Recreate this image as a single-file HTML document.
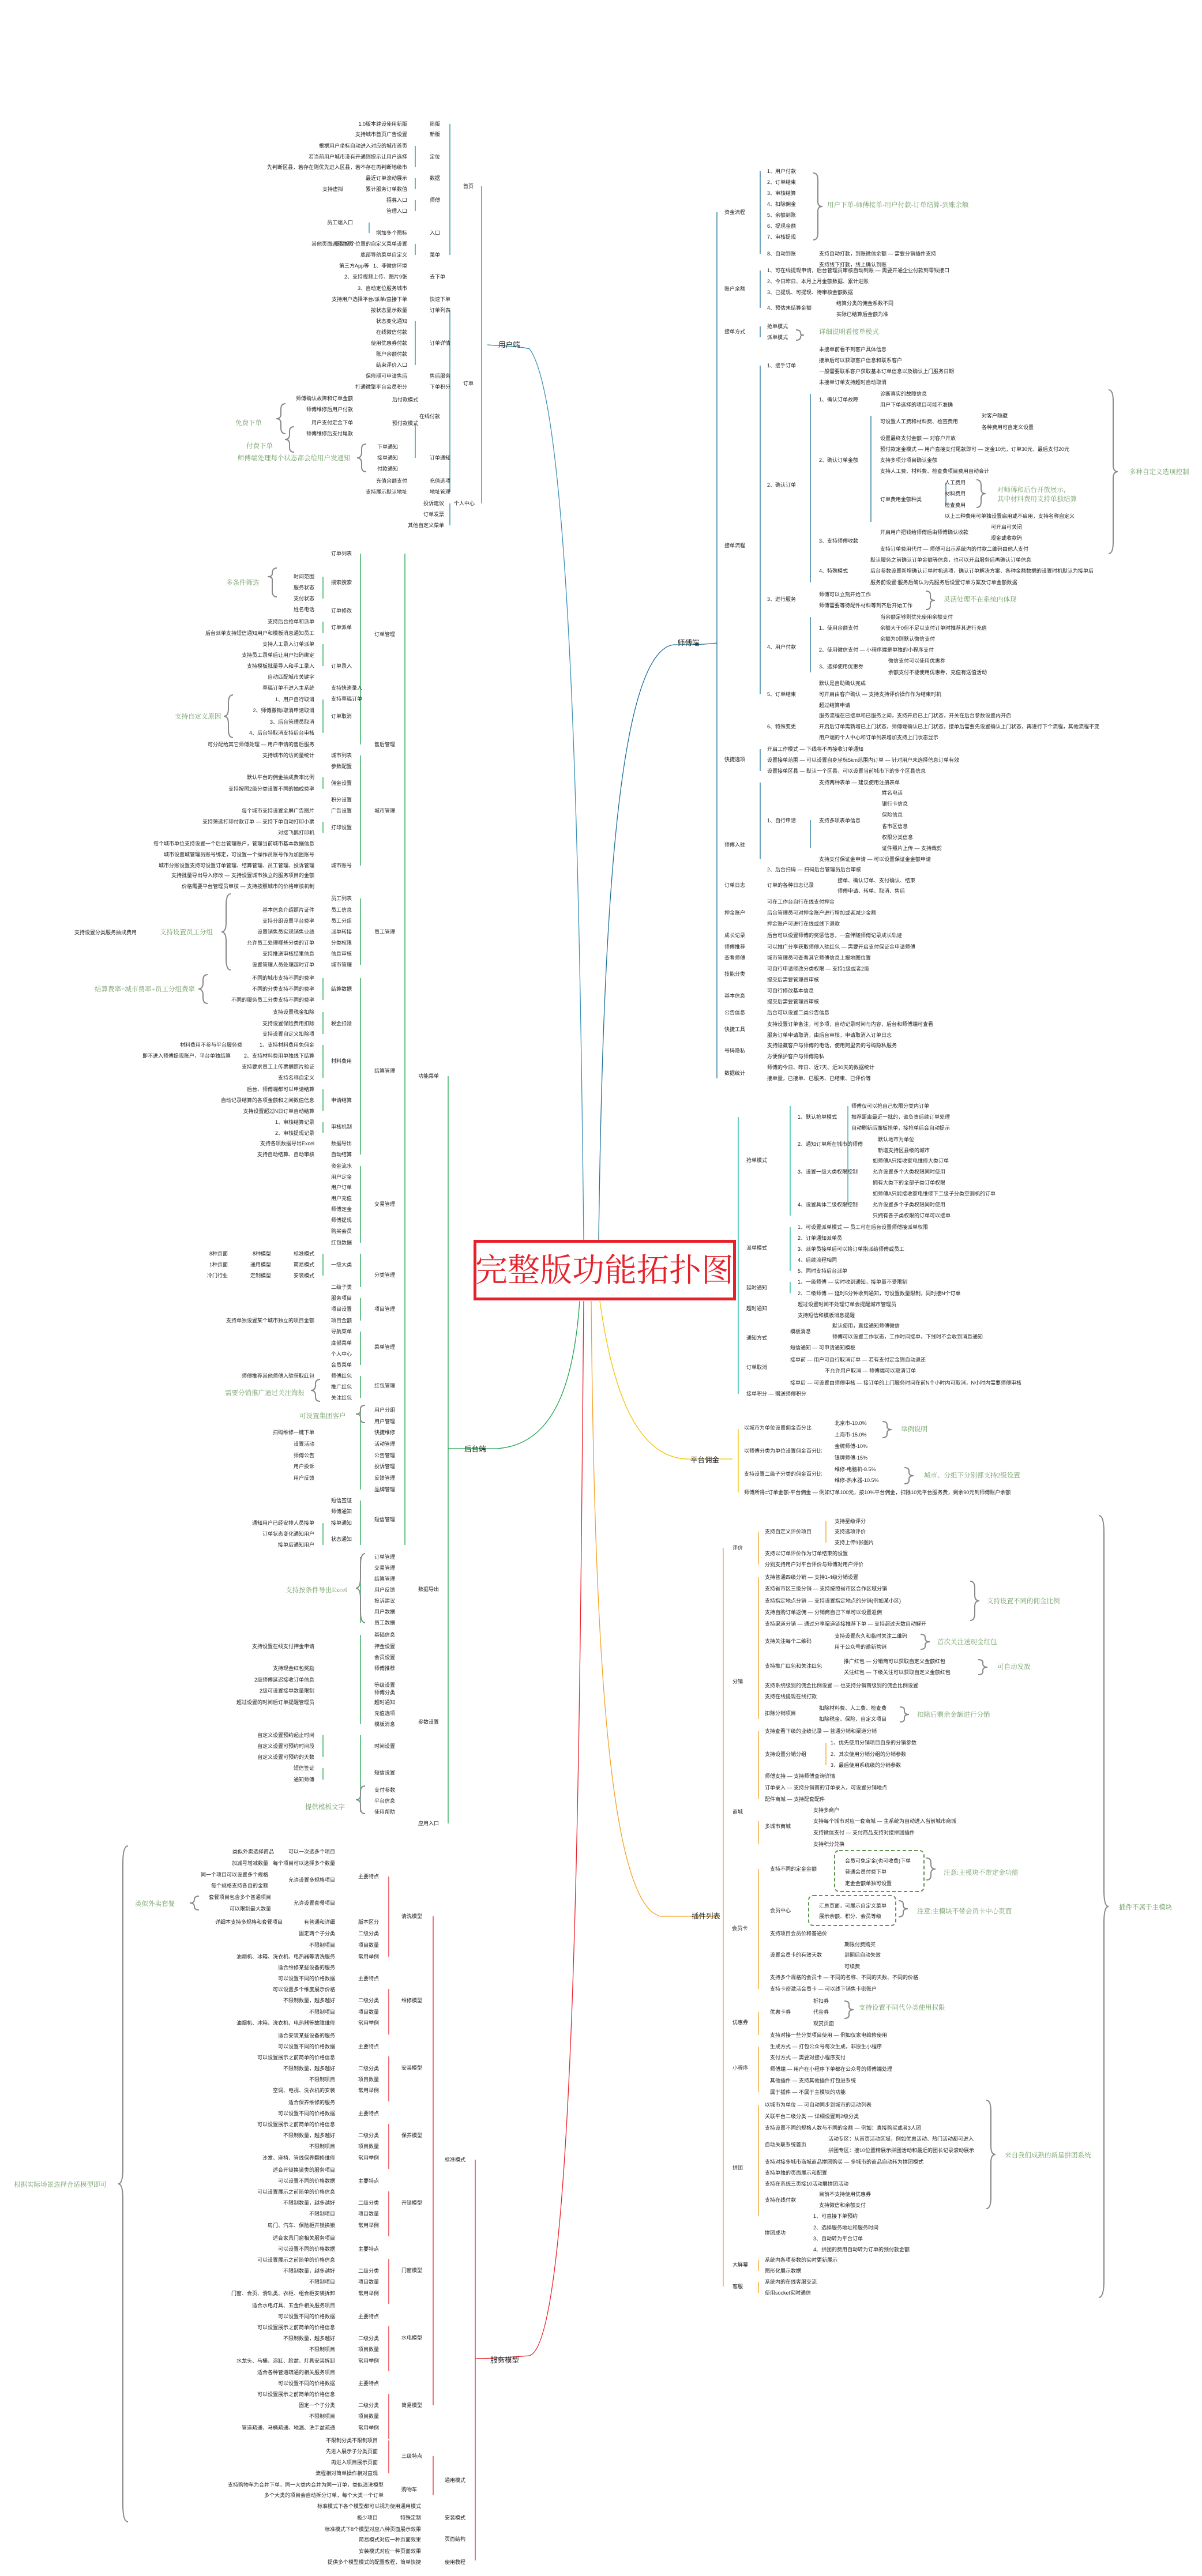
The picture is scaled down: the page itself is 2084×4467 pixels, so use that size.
<!DOCTYPE html>
<html><head><meta charset="utf-8">
<style>
html,body{margin:0;padding:0;background:#fff;}
svg{display:block;}
text{font-family:"Liberation Sans","Noto Sans CJK SC",sans-serif;font-size:9px;fill:#222;}
.e{text-anchor:end;}
.a{font-family:"Liberation Serif","Noto Serif CJK SC",serif;font-size:11.5px;fill:#6f9c63;}
.L{font-size:12.5px;}
.ln{fill:none;stroke-width:1.3;}
.br{fill:none;stroke:#888;stroke-width:2;}
</style></head>
<body>
<svg width="2084" height="4467" viewBox="0 0 2084 4467" xmlns="http://www.w3.org/2000/svg">
<rect width="2084" height="4467" fill="#fff"/>

<!-- ===== center connectors ===== -->
<path class="ln" stroke="#3a8fb7" d="M1012 2150 C1005 1500 990 700 918 605"/>
<path class="ln" stroke="#1a6f98" d="M1038 2150 C1045 1600 1070 1130 1168 1118"/>
<path class="ln" stroke="#1aa34a" d="M1005 2256 C995 2400 960 2505 862 2512"/>
<path class="ln" stroke="#f2c200" d="M1040 2256 C1060 2400 1100 2528 1192 2530"/>
<path class="ln" stroke="#f5a020" d="M1025 2256 C1030 2800 1050 3300 1145 3323"/>
<path class="ln" stroke="#e8202a" d="M1012 2256 C1005 3000 1000 4060 918 4085"/>

<!-- center box -->
<rect x="823.5" y="2152.5" width="450" height="100" fill="#fff" stroke="#e8202a" stroke-width="5"/>
<text x="1048" y="2222" style="font-family:'Noto Serif CJK SC','Liberation Serif',serif;font-size:56px;fill:#e8202a;text-anchor:middle;">完整版功能拓扑图</text>

<!-- ===== 用户端 (blue, top-left) ===== -->
<g stroke="#1a8aa8">
<path class="ln" d="M835 323 V873"/>
<path class="ln" d="M780 215 V442"/>
<path class="ln" d="M780 538 V853"/>
<path class="ln" d="M780 873 V911"/>
<path class="ln" d="M720 253 V290 M720 309 V328 M720 347 V366 M720 423 V442 M720 557 V633 M720 733 V794 M640 386 V404"/>
<path class="ln" d="M918 605 C900 600 870 600 845 598"/>
</g>
<text x="864" y="602" class="L">用户端</text>
<text x="803" y="326">首页</text><text x="803" y="668">订单</text><text x="787" y="876">个人中心</text>
<g>
<text x="745" y="218">简版</text><text x="745" y="236">新版</text><text x="745" y="275">定位</text><text x="745" y="312">数据</text><text x="745" y="350">师傅</text><text x="745" y="407">入口</text><text x="745" y="445">菜单</text>
<text x="745" y="483">去下单</text><text x="745" y="522">快速下单</text><text x="745" y="541">订单列表</text><text x="745" y="598">订单详情</text><text x="745" y="655">售后服务</text><text x="745" y="674">下单积分</text>
<text x="727" y="725">在线付款</text><text x="745" y="797">订单通知</text><text x="745" y="837">充值选项</text><text x="745" y="856">地址管理</text>
<text x="680" y="696">后付款模式</text><text x="680" y="737">预付款模式</text>
</g>
<g class="e">
<text class="e" x="706" y="218">1.0版本建设使用新版</text>
<text class="e" x="706" y="236">支持城市首页广告设置</text>
<text class="e" x="706" y="256">根据用户坐标自动进入对应的城市首页</text>
<text class="e" x="706" y="275">若当前用户城市没有开通则提示让用户选择</text>
<text class="e" x="706" y="293">先判断区县，若存在则优先进入区县，若不存在再判断地级市</text>
<text class="e" x="706" y="312">最近订单滚动展示</text>
<text class="e" x="706" y="331">累计服务订单数值</text><text class="e" x="595" y="331">支持虚拟</text>
<text class="e" x="706" y="350">招募入口</text>
<text class="e" x="706" y="369">管理入口</text>
<text class="e" x="612" y="389">员工端入口</text>
<text class="e" x="706" y="407">增加多个图标</text>
<text class="e" x="612" y="426">其他页面返回主页</text>
<text class="e" x="706" y="426">支持多个位置的自定义菜单设置</text>
<text class="e" x="706" y="445">底部导航菜单自定义</text>
<text class="e" x="706" y="464">1、非微信环境</text><text class="e" x="640" y="464">第三方App等</text>
<text class="e" x="706" y="483">2、支持视频上传、图片9张</text>
<text class="e" x="706" y="503">3、自动定位服务城市</text>
<text class="e" x="706" y="522">支持用户选择平台/派单/直接下单</text>
<text class="e" x="706" y="541">按状态显示数量</text>
<text class="e" x="706" y="560">状态变化通知</text>
<text class="e" x="706" y="579">在线微信付款</text>
<text class="e" x="706" y="598">使用优惠券付款</text>
<text class="e" x="706" y="617">账户余额付款</text>
<text class="e" x="706" y="636">结束评价入口</text>
<text class="e" x="706" y="655">保修期可申请售后</text>
<text class="e" x="706" y="674">打通微擎平台会员积分</text>
<text class="e" x="612" y="694">师傅确认故障和订单金额</text>
<text class="e" x="612" y="713">师傅维修后用户付款</text>
<text class="e" x="612" y="736">用户支付定金下单</text>
<text class="e" x="612" y="755">师傅维修后支付尾款</text>
<text class="e" x="690" y="778">下单通知</text>
<text class="e" x="690" y="797">接单通知</text>
<text class="e" x="690" y="816">付款通知</text>
<text class="e" x="706" y="837">充值余额支付</text>
<text class="e" x="706" y="856">支持展示默认地址</text>
<text class="e" x="770" y="876">投诉建议</text>
<text class="e" x="770" y="895">订单发票</text>
<text class="e" x="770" y="914">其他自定义菜单</text>
</g>
<text class="a" x="408" y="737">免费下单</text>
<text class="a" x="427" y="777">付费下单</text>
<text class="a" x="412" y="798">师傅端处理每个状态都会给用户发通知</text>
<path class="br" d="M495 700 q-8 0 -8 10 v8 q0 8 -8 8 q8 0 8 8 v8 q0 10 8 10"/>
<path class="br" d="M510 740 q-8 0 -8 8 v6 q0 8 -8 8 q8 0 8 8 v6 q0 8 8 8"/>
<path class="br" d="M635 770 q-8 0 -8 8 v6 q0 10 -8 10 q8 0 8 10 v6 q0 8 8 8"/>

<!-- ===== 师傅端 (blue, right) ===== -->
<g stroke="#1a6f98">
<path class="ln" d="M1243 368 V1870"/>
<path class="ln" d="M1318 297 V440 M1318 469 V534 M1318 566 V585 M1318 634 V1204 M1318 1299 V1337 M1318 1357 V1490"/>
<path class="ln" d="M1405 683 V1010 M1405 1070 V1166 M1405 1422 V1471 M1510 721 V905 M1640 837 V876"/>
<path class="ln" d="M1168 1118 C1190 1118 1220 1118 1243 1115"/>
</g>
<text x="1175" y="1119" class="L">师傅端</text>
<g>
<text x="1256" y="371">资金流程</text><text x="1256" y="504">账户余额</text><text x="1256" y="578">接单方式</text><text x="1256" y="949">接单流程</text><text x="1256" y="1320">快捷选项</text><text x="1256" y="1468">师傅入驻</text>
<text x="1256" y="1538">订单日志</text><text x="1256" y="1586">押金账户</text><text x="1256" y="1625">成长记录</text><text x="1256" y="1645">师傅推荐</text><text x="1256" y="1664">查看师傅</text><text x="1256" y="1692">技能分类</text><text x="1256" y="1730">基本信息</text><text x="1256" y="1759">公告信息</text><text x="1256" y="1788">快捷工具</text><text x="1256" y="1825">号码隐私</text><text x="1256" y="1864">数据统计</text>

<text x="1330" y="300">1、用户付款</text><text x="1330" y="319">2、订单结束</text><text x="1330" y="338">3、审核结算</text><text x="1330" y="357">4、扣除佣金</text><text x="1330" y="376">5、余额到账</text><text x="1330" y="395">6、提现金额</text><text x="1330" y="414">7、审核提现</text>
<text x="1330" y="443">8、自动到账</text><text x="1420" y="443">支持自动打款，到账微信余额 — 需要分销插件支持</text><text x="1420" y="462">支持线下打款，线上确认到账</text>
<text x="1330" y="472">1、可在线提现申请，后台管理员审核自动到账 — 需要开通企业付款到零钱接口</text>
<text x="1330" y="491">2、今日昨日、本月上月金额数据、累计进账</text>
<text x="1330" y="510">3、已提现、可提现、待审核金额数据</text>
<text x="1330" y="537">4、预估未结算金额</text><text x="1450" y="529">结算分类的佣金系数不同</text><text x="1450" y="548">实际已结算后金额为准</text>
<text x="1330" y="569">抢单模式</text><text x="1330" y="588">派单模式</text>
<text x="1330" y="637">1、接手订单</text>
<text x="1420" y="609">未接单前看不到客户具体信息</text><text x="1420" y="628">接单后可以获取客户信息和联系客户</text><text x="1420" y="647">一般需要联系客户获取基本订单信息以及确认上门服务日期</text><text x="1420" y="666">未接单订单支持超时自动取消</text>
<text x="1420" y="696">1、确认订单故障</text><text x="1526" y="686">诊断真实的故障信息</text><text x="1526" y="705">用户下单选择的项目可能不准确</text>
<text x="1526" y="734">可设置人工费和材料费、检查费用</text><text x="1702" y="724">对客户隐藏</text><text x="1702" y="744">各种费用可自定义设置</text>
<text x="1526" y="763">设置最终支付金额 — 对客户开放</text>
<text x="1526" y="782">预付款定金模式 — 用户直接支付尾款即可 — 定金10元，订单30元，最后支付20元</text>
<text x="1330" y="844">2、确认订单</text><text x="1420" y="801">2、确认订单金额</text><text x="1526" y="801">支持多项分项目确认金额</text>
<text x="1526" y="820">支持人工费、材料费、检查费项目费用自动合计</text>
<text x="1526" y="869">订单费用金额种类</text><text x="1638" y="840">人工费用</text><text x="1638" y="859">材料费用</text><text x="1638" y="879">检查费用</text>
<text x="1638" y="898">以上三种费用可单独设置启用或不启用，支持名称自定义</text>
<text x="1420" y="941">3、支持师傅收款</text><text x="1526" y="926">开启用户把钱给师傅后由师傅确认收款</text><text x="1718" y="917">可开启可关闭</text><text x="1718" y="936">现金或收款码</text>
<text x="1526" y="955">支持订单费用代付 — 师傅可出示系统内的付款二维码由他人支付</text>
<text x="1420" y="993">4、特殊模式</text><text x="1509" y="974">默认服务之前确认订单金额等信息，也可以开启服务后再确认订单信息</text>
<text x="1509" y="993">后台参数设置新增确认订单时机选项，确认订单解决方案、各种金额数据的设置时机默认为接单后</text>
<text x="1509" y="1013">服务前设置:服务后确认为先服务后设置订单方案及订单金额数据</text>
<text x="1330" y="1042">3、进行服务</text><text x="1420" y="1034">师傅可以立刻开始工作</text><text x="1420" y="1053">师傅需要等待配件材料等到齐后开始工作</text>
<text x="1330" y="1125">4、用户付款</text><text x="1420" y="1092">1、使用余额支付</text><text x="1526" y="1073">当余额足够则优先使用余额支付</text><text x="1526" y="1092">余额大于0但不足以支付订单时推荐其进行充值</text><text x="1526" y="1111">余额为0则默认微信支付</text>
<text x="1420" y="1130">2、使用微信支付 — 小程序端是单独的小程序支付</text>
<text x="1420" y="1159">3、选择使用优惠券</text><text x="1540" y="1149">微信支付可以使用优惠券</text><text x="1540" y="1169">余额支付不能使用优惠券，充值有送值活动</text>
<text x="1330" y="1207">5、订单结束</text><text x="1420" y="1188">默认是自助确认完成</text><text x="1420" y="1207">可开启由客户确认 — 支持支持评价操作作为结束时机</text><text x="1420" y="1226">超过结算申请</text>
<text x="1330" y="1263">6、特殊变更</text><text x="1420" y="1244">服务流程在已接单和已服务之间，支持开启已上门状态，开关在后台参数设置内开启</text>
<text x="1420" y="1263">开启后订单需新增已上门状态，师傅端确认已上门状态，接单后需要先设置确认上门状态，再进行下个流程，其他流程不变</text>
<text x="1420" y="1282">用户端的个人中心和订单列表增加支持上门状态显示</text>
<text x="1330" y="1302">开启工作模式 — 下线将不再接收订单通知</text>
<text x="1330" y="1321">设置接单范围 — 可以设置自身坐标5km范围内订单 — 针对用户未选择信息订单有效</text>
<text x="1330" y="1340">设置接单区县 — 默认一个区县，可以设置当前城市下的多个区县信息</text>
<text x="1420" y="1360">支持两种表单 — 建议使用注册表单</text>
<text x="1330" y="1426">1、自行申请</text><text x="1420" y="1426">支持多项表单信息</text>
<text x="1529" y="1378">姓名电话</text><text x="1529" y="1397">银行卡信息</text><text x="1529" y="1416">保险信息</text><text x="1529" y="1436">省市区信息</text><text x="1529" y="1455">权限分类信息</text><text x="1529" y="1474">证件照片上传 — 支持裁剪</text>
<text x="1420" y="1493">支持支付保证金申请 — 可以设置保证金金额申请</text>
<text x="1330" y="1511">2、后台扫码 — 扫码后台管理员后台审核</text>
<text x="1330" y="1538">订单的各种日志记录</text><text x="1452" y="1530">接单、确认订单、支付确认、结束</text><text x="1452" y="1548">师傅申请、转单、取消、售后</text>
<text x="1330" y="1567">可在工作台自行在线支付押金</text><text x="1330" y="1586">后台管理员可对押金账户进行增加或者减少金额</text><text x="1330" y="1605">押金账户可进行在线或线下退款</text>
<text x="1330" y="1625">后台可以设置师傅的奖惩信息，一直伴随师傅记录成长轨迹</text>
<text x="1330" y="1645">可以推广分享获取师傅入驻红包 — 需要开启支付保证金申请师傅</text>
<text x="1330" y="1664">城市管理员可查看其它师傅信息上报地图位置</text>
<text x="1330" y="1683">可自行申请修改分类权限 — 支持1级或者2级</text><text x="1330" y="1702">提交后需要管理员审核</text>
<text x="1330" y="1721">可自行修改基本信息</text><text x="1330" y="1740">提交后需要管理员审核</text>
<text x="1330" y="1759">后台可以设置二类公告信息</text>
<text x="1330" y="1779">支持设置订单备注，可多项，自动记录时间与内容，后台和师傅端可查看</text><text x="1330" y="1798">服务订单申请取消，由后台审核，申请取消入订单日志</text>
<text x="1330" y="1816">支持隐藏客户与师傅的电话，使用阿里云的号码隐私服务</text><text x="1330" y="1835">方便保护客户与师傅隐私</text>
<text x="1330" y="1854">师傅的今日、昨日、近7天、近30天的数据统计</text><text x="1330" y="1873">接单量，已接单、已服务、已结束、已评价等</text>
</g>
<text class="a" x="1434" y="359">用户下单-师傅接单-用户付款-订单结算-到账余额</text>
<text class="a" x="1420" y="579">详细说明看接单模式</text>
<text class="a" x="1729" y="853">对师傅和后台开放展示，</text><text class="a" x="1729" y="869">其中材料费用支持单独结算</text>
<text class="a" x="1636" y="1043">灵活处理不在系统内体现</text>
<text class="a" x="1958" y="822">多种自定义选项控制</text>
<path class="br" d="M1410 300 q8 0 8 12 v38 q0 8 8 8 q-8 0 -8 8 v38 q0 12 -8 12"/>
<path class="br" d="M1380 572 q8 0 8 6 q0 3 6 3 q-6 0 -6 3 q0 6 -8 6"/>
<path class="br" d="M1693 832 q8 0 8 10 v6 q0 8 8 8 q-8 0 -8 8 v6 q0 10 -8 10"/>
<path class="br" d="M1605 1025 q8 0 8 6 v4 q0 6 8 6 q-8 0 -8 6 v4 q0 6 -8 6"/>
<path class="br" d="M1922 676 q8 0 8 20 v110 q0 12 8 12 q-8 0 -8 12 v110 q0 20 -8 20"/>

<!-- ===== 抢单模式 (teal) ===== -->
<g stroke="#1cb3a0"><path class="ln" d="M1280 1937 V2417 M1370 1918 V2108 M1370 2128 V2204 M1370 2223 V2243 M1470 1918 V2089"/></g>
<g>
<text x="1294" y="2015">抢单模式</text><text x="1294" y="2167">派单模式</text><text x="1294" y="2236">延时通知</text><text x="1294" y="2272">超时通知</text><text x="1294" y="2323">通知方式</text><text x="1294" y="2374">订单取消</text><text x="1294" y="2420">接单积分 — 赠送师傅积分</text>
<text x="1383" y="1940">1、默认抢单模式</text><text x="1476" y="1921">师傅仅可以抢自己权限分类内订单</text><text x="1476" y="1940">推荐距离最近一批的，谁负责后续订单处理</text><text x="1476" y="1959">自动刷新后面板抢单，接抢单后会自动提示</text>
<text x="1383" y="1987">2、通知订单所在城市的师傅</text><text x="1522" y="1979">默认地市为单位</text><text x="1522" y="1998">新增支持区县级的城市</text>
<text x="1383" y="2035">3、设置一级大类权限控制</text><text x="1513" y="2016">如师傅A只接收家电维修大类订单</text><text x="1513" y="2035">允许设置多个大类权限同时使用</text><text x="1513" y="2054">拥有大类下的全部子类订单权限</text>
<text x="1383" y="2092">4、设置具体二级权限控制</text><text x="1513" y="2073">如师傅A只能接收家电维修下二级子分类空调机的订单</text><text x="1513" y="2092">允许设置多个子类权限同时使用</text><text x="1513" y="2111">只拥有各子类权限的订单可以接单</text>
<text x="1383" y="2131">1、可设置派单模式 — 员工可在后台设置师傅接派单权限</text><text x="1383" y="2150">2、订单通知派单员</text><text x="1383" y="2169">3、派单员接单后可以将订单指派给师傅或员工</text><text x="1383" y="2188">4、后续流程相同</text><text x="1383" y="2207">5、同时支持后台派单</text>
<text x="1383" y="2226">1、一级师傅 — 实时收到通知，接单量不受限制</text><text x="1383" y="2246">2、二级师傅 — 延时5分钟收到通知，可设置数量限制，同时接N个订单</text>
<text x="1383" y="2265">超过设置时间不处理订单会提醒城市管理员</text><text x="1383" y="2284">支持短信和模板消息提醒</text>
<text x="1370" y="2312">模板消息</text><text x="1443" y="2302">默认使用，直接通知师傅微信</text><text x="1443" y="2321">师傅可以设置工作状态，工作时间接单，下线时不会收到消息通知</text><text x="1370" y="2340">短信通知 — 可申请通知模板</text>
<text x="1370" y="2361">接单前 — 用户可自行取消订单 — 若有支付定金则自动退还</text><text x="1430" y="2380">不允许用户取消 — 师傅端可以取消订单</text>
<text x="1370" y="2401">接单后 — 可设置由师傅审核 — 接订单的上门服务时间在前N个小时内可取消，N小时内需要师傅审核</text>
</g>

<!-- ===== 平台佣金 (yellow) ===== -->
<g stroke="#f2c200"><path class="ln" d="M1280 2478 V2588 M1192 2530 H1270"/></g>
<text x="1197" y="2536" class="L">平台佣金</text>
<g>
<text x="1290" y="2479">以城市为单位设置佣金百分比</text><text x="1447" y="2471">北京市-10.0%</text><text x="1447" y="2491">上海市-15.0%</text>
<text x="1290" y="2519">以师傅分类为单位设置佣金百分比</text><text x="1447" y="2511">金牌师傅-10%</text><text x="1447" y="2531">银牌师傅-15%</text>
<text x="1290" y="2559">支持设置二级子分类的佣金百分比</text><text x="1447" y="2551">维修-电脑机-8.5%</text><text x="1447" y="2570">维修-热水器-10.5%</text>
<text x="1290" y="2591">师傅所得=订单金额-平台佣金 — 例如订单100元，按10%平台佣金，扣除10元平台服务费，剩余90元到师傅账户余额</text>
</g>
<text class="a" x="1562" y="2482">举例说明</text><text class="a" x="1602" y="2562">城市、分组下分别都支持2级设置</text>
<path class="br" d="M1530 2465 q8 0 8 6 v2 q0 6 8 6 q-8 0 -8 6 v2 q0 6 -8 6"/>
<path class="br" d="M1568 2545 q8 0 8 6 v2 q0 6 8 6 q-8 0 -8 6 v2 q0 6 -8 6"/>

<!-- ===== 插件列表 (orange) ===== -->
<g stroke="#f5a020">
<path class="ln" d="M1254 2684 V3965"/>
<path class="ln" d="M1315 2656 V2713 M1315 2735 V2981 M1315 3002 V3120 M1315 3158 V3198 M1315 3241 V3449 M1315 3489 V3529 M1315 3549 V3628 M1315 3650 V3843 M1315 3919 V3938 M1315 3957 V3976 M1432 2638 V2675 M1432 3022 V3061"/>
<path class="ln" d="M1145 3323 H1245"/>
</g>
<rect x="1447" y="3209" width="155" height="71" rx="8" fill="none" stroke="#5f9450" stroke-width="2" stroke-dasharray="6 4"/>
<rect x="1402" y="3287" width="151" height="52" rx="8" fill="none" stroke="#5f9450" stroke-width="2" stroke-dasharray="6 4"/>
<text x="1199" y="3327" class="L">插件列表</text>
<g>
<text x="1270" y="2687">评价</text><text x="1270" y="2919">分销</text><text x="1270" y="3145">商城</text><text x="1269" y="3347">会员卡</text><text x="1270" y="3510">优惠券</text><text x="1270" y="3589">小程序</text><text x="1270" y="3762">拼团</text><text x="1270" y="3930">大屏幕</text><text x="1270" y="3968">客服</text>
<text x="1447" y="2641">支持星级评分</text><text x="1326" y="2659">支持自定义评价项目</text><text x="1447" y="2659">支持选项评价</text><text x="1447" y="2678">支持上传9张图片</text>
<text x="1326" y="2697">支持以订单评价作为订单结束的设置</text><text x="1326" y="2716">分别支持用户对平台评价与师傅对用户评价</text>
<text x="1326" y="2738">支持普通四级分销 — 支持1-4级分销设置</text><text x="1326" y="2758">支持省市区三级分销 — 支持按照省市区合作区域分销</text><text x="1326" y="2779">支持指定地点分销 — 支持设置指定地点的分销(例如某小区)</text><text x="1326" y="2799">支持自购订单返佣 — 分销商自己下单可以设置返佣</text><text x="1326" y="2819">支持渠道分销 — 通过分享渠道链接推荐下单 — 支持超过天数自动解开</text>
<text x="1326" y="2849">支持关注每个二维码</text><text x="1447" y="2840">支持设置永久和临时关注二维码</text><text x="1447" y="2859">用于公众号的邀新营销</text>
<text x="1326" y="2892">支持推广红包和关注红包</text><text x="1463" y="2884">推广红包 — 分销商可以获取自定义金额红包</text><text x="1463" y="2903">关注红包 — 下级关注可以获取自定义金额红包</text>
<text x="1326" y="2926">支持系统级别的佣金比例设置 — 也支持分销商级别的佣金比例设置</text><text x="1326" y="2945">支持在线提现在线打款</text>
<text x="1326" y="2974">扣除分销项目</text><text x="1420" y="2965">扣除材料费、人工费、检查费</text><text x="1420" y="2984">扣除税金、保险、自定义项目</text>
<text x="1326" y="3005">支持查看下级的业绩记录 — 普通分销和渠道分销</text>
<text x="1326" y="3045">支持设置分销分组</text><text x="1440" y="3025">1、优先使用分销项目自身的分销参数</text><text x="1440" y="3045">2、其次使用分销分组的分销参数</text><text x="1440" y="3064">3、最后使用系统级的分销参数</text>
<text x="1326" y="3083">师傅支持 — 支持师傅查询详情</text><text x="1326" y="3103">订单录入 — 支持分销商的订单录入，可设置分销地点</text><text x="1326" y="3123">配件商城 — 支持配套配件</text>
<text x="1326" y="3170">多城市商城</text><text x="1410" y="3142">支持多商户</text><text x="1410" y="3161">支持每个城市对应一套商城 — 主系统为自动进入当前城市商城</text><text x="1410" y="3181">支持微信支付 — 支付商品支持对接拼团插件</text><text x="1410" y="3201">支持积分兑换</text>
<text x="1335" y="3244">支持不同的定金金额</text><text x="1465" y="3230">会员可免定金(也可收费)下单</text><text x="1465" y="3249">普通会员付费下单</text><text x="1465" y="3269">定金金额单独可设置</text>
<text x="1335" y="3316">会员中心</text><text x="1420" y="3308">汇总页面，可展示自定义菜单</text><text x="1420" y="3326">展示余额、积分、会员等级</text>
<text x="1335" y="3356">支持项目会员价和普通价</text>
<text x="1335" y="3393">设置会员卡的有效天数</text><text x="1464" y="3375">期限付费购买</text><text x="1464" y="3393">到期后自动失效</text><text x="1464" y="3413">可续费</text>
<text x="1335" y="3432">支持多个规格的会员卡 — 不同的名称、不同的天数、不同的价格</text><text x="1335" y="3452">支持卡密激活会员卡 — 可以线下销售卡密账户</text>
<text x="1335" y="3492">优惠卡券</text><text x="1410" y="3473">折扣券</text><text x="1410" y="3492">代金券</text><text x="1410" y="3512">观赏页面</text>
<text x="1335" y="3532">支持对接一些分类项目使用 — 例如仅家电维修使用</text>
<text x="1335" y="3552">生成方式 — 打包公众号每次生成，非原生小程序</text><text x="1335" y="3571">支付方式 — 需要对接小程序支付</text><text x="1335" y="3591">师傅端 — 用户在小程序下单都在公众号的师傅端处理</text><text x="1335" y="3611">其他插件 — 支持其他插件打包进系统</text><text x="1335" y="3631">属于插件 — 不属于主模块的功能</text>
<text x="1326" y="3653">以城市为单位 — 可自动同步到城市的活动列表</text><text x="1326" y="3673">关联平台二级分类 — 详细设置到2级分类</text><text x="1326" y="3693">支持设置不同的规格人数与不同的金额 — 例如：直接购买或者3人团</text>
<text x="1326" y="3722">自动关联系统首页</text><text x="1436" y="3712">活动专区：从首页活动区域，例如优惠活动、热门活动都可进入</text><text x="1436" y="3732">拼团专区：接10位置精展示拼团活动和最近的团长记录滚动展示</text>
<text x="1326" y="3752">支持对接多城市商城商品拼团购买 — 多城市的商品自动转为拼团模式</text><text x="1326" y="3771">支持单独的页面展示和配置</text><text x="1326" y="3790">支持在系统三页接10活动展拼团活动</text>
<text x="1326" y="3818">支持在线付款</text><text x="1420" y="3808">目前不支持使用优惠券</text><text x="1420" y="3827">支持微信和余额支付</text>
<text x="1326" y="3875">拼团成功</text><text x="1410" y="3846">1、可直接下单预约</text><text x="1410" y="3866">2、选择服务地址和服务时间</text><text x="1410" y="3885">3、自动转为平台订单</text><text x="1410" y="3904">4、拼团的费用自动转为订单的预付款金额</text>
<text x="1326" y="3922">系统内各项参数的实时更新展示</text><text x="1326" y="3941">图形化展示数据</text>
<text x="1326" y="3960">系统内的在线客服交流</text><text x="1326" y="3979">使用socket实时通信</text>
</g>
<text class="a" x="1711" y="2780">支持设置不同的佣金比例</text>
<text class="a" x="1625" y="2851">首次关注送现金红包</text>
<text class="a" x="1729" y="2894">可自动发放</text>
<text class="a" x="1590" y="2977">扣除后剩余金额进行分销</text>
<text class="a" x="1636" y="3251">注意:主模块不带定金功能</text>
<text class="a" x="1590" y="3318">注意:主模块不带会员卡中心页面</text>
<text class="a" x="1489" y="3485">支持设置不同代分类使用权限</text>
<text class="a" x="1742" y="3741">来自我们成熟的新星拼团系统</text>
<text class="a" x="1940" y="3311">插件不属于主模块</text>
<path class="br" d="M1682 2742 q8 0 8 12 v12 q0 10 8 10 q-8 0 -8 10 v12 q0 12 -8 12"/>
<path class="br" d="M1596 2834 q8 0 8 5 v2 q0 6 8 6 q-8 0 -8 6 v2 q0 5 -8 5"/>
<path class="br" d="M1696 2878 q8 0 8 5 v2 q0 6 8 6 q-8 0 -8 6 v2 q0 5 -8 5"/>
<path class="br" d="M1560 2960 q8 0 8 5 v2 q0 6 8 6 q-8 0 -8 6 v2 q0 5 -8 5"/>
<path class="br" d="M1606 3222 q8 0 8 8 v3 q0 8 8 8 q-8 0 -8 8 v3 q0 8 -8 8"/>
<path class="br" d="M1558 3296 q8 0 8 6 v2 q0 6 8 6 q-8 0 -8 6 v2 q0 6 -8 6"/>
<path class="br" d="M1464 3470 q8 0 8 6 v3 q0 6 8 6 q-8 0 -8 6 v3 q0 6 -8 6"/>
<path class="br" d="M1710 3642 q8 0 8 20 v60 q0 14 8 14 q-8 0 -8 14 v60 q0 20 -8 20"/>
<path class="br" d="M1905 2628 q9 0 9 30 v620 q0 28 8 28 q-8 0 -8 28 v620 q0 30 -9 30"/>

<!-- ===== 后台端 (green, left-middle) ===== -->
<g stroke="#1aa34a">
<path class="ln" d="M702 960 V2679"/>
<path class="ln" d="M777 1866 V3162"/>
<path class="ln" d="M862 2512 C830 2512 800 2512 777 2512"/>
<path class="ln" d="M625 960 V1291 M625 1310 V1501 M625 1558 V1673 M625 1696 V2002 M625 2022 V2155 M625 2174 V2232 M625 2251 V2290 M625 2309 V2367 M625 2386 V2424 M625 2445 V2583 M625 2602 V2679 M625 2700 V2814 M625 2835 V2990 M625 3009 V3142"/>
<path class="ln" d="M560 1000 V1038 M560 1078 V1098 M560 1117 V1155 M560 1213 V1271 M560 1348 V1368 M560 1425 V1444 M560 1696 V1734 M560 1755 V1793 M560 1812 V1869 M560 1889 V1927 M560 1946 V1965 M560 2174 V2212 M560 2641 V2679 M560 3009 V3047 M560 3066 V3086"/>
</g>
<text x="805" y="2517" class="L">后台端</text>
<g>
<text x="725" y="1869">功能菜单</text><text x="725" y="2759">数据导出</text><text x="725" y="2989">参数设置</text><text x="725" y="3165">应用入口</text>
<text x="649" y="1103">订单管理</text><text x="649" y="1294">售后管理</text><text x="649" y="1409">城市管理</text><text x="649" y="1619">员工管理</text><text x="649" y="1860">结算管理</text><text x="649" y="2091">交易管理</text><text x="649" y="2214">分类管理</text><text x="649" y="2273">项目管理</text><text x="649" y="2339">菜单管理</text><text x="649" y="2406">红包管理</text>
<text x="649" y="2448">用户分组</text><text x="649" y="2468">用户管理</text><text x="649" y="2487">快捷维修</text><text x="649" y="2507">活动管理</text><text x="649" y="2527">公告管理</text><text x="649" y="2546">投诉管理</text><text x="649" y="2566">反馈管理</text><text x="649" y="2586">品牌管理</text><text x="649" y="2638">短信管理</text>
<text x="649" y="2703">订单管理</text><text x="649" y="2722">交易管理</text><text x="649" y="2741">结算管理</text><text x="649" y="2760">用户反馈</text><text x="649" y="2779">投诉建议</text><text x="649" y="2798">用户数据</text><text x="649" y="2817">员工数据</text>
<text x="649" y="2838">基础信息</text><text x="649" y="2858">押金设置</text><text x="649" y="2877">会员设置</text><text x="649" y="2896">师傅推荐</text><text x="649" y="2925">等级设置</text><text x="649" y="2938">师傅分类</text><text x="649" y="2955">超时通知</text><text x="649" y="2974">充值选项</text><text x="649" y="2993">模板消息</text>
<text x="649" y="3031">时间设置</text><text x="649" y="3077">短信设置</text><text x="649" y="3107">支付参数</text><text x="649" y="3126">平台信息</text><text x="649" y="3145">使用帮助</text>

<text x="574" y="963">订单列表</text><text x="574" y="1013">搜索搜索</text><text x="574" y="1062">订单修改</text><text x="574" y="1091">订单派单</text><text x="574" y="1158">订单录入</text><text x="574" y="1196">支持快速录入</text><text x="574" y="1215">支持草稿订单</text><text x="574" y="1245">订单取消</text>
<text x="574" y="1313">城市列表</text><text x="574" y="1332">参数配置</text><text x="574" y="1361">佣金设置</text><text x="574" y="1390">积分设置</text><text x="574" y="1409">广告设置</text><text x="574" y="1438">打印设置</text><text x="574" y="1504">城市账号</text>
<text x="574" y="1561">员工列表</text><text x="574" y="1581">员工信息</text><text x="574" y="1600">员工分组</text><text x="574" y="1619">派单转接</text><text x="574" y="1638">分类权限</text><text x="574" y="1657">信息审核</text><text x="574" y="1676">城市管理</text>
<text x="574" y="1718">结算数据</text><text x="574" y="1778">税金扣除</text><text x="574" y="1843">材料费用</text><text x="574" y="1911">申请结算</text><text x="574" y="1957">审核机制</text><text x="574" y="1986">数据导出</text><text x="574" y="2005">自动结算</text>
<text x="574" y="2025">资金流水</text><text x="574" y="2044">用户定金</text><text x="574" y="2062">用户订单</text><text x="574" y="2081">用户充值</text><text x="574" y="2100">师傅定金</text><text x="574" y="2119">师傅提现</text><text x="574" y="2138">购买会员</text><text x="574" y="2158">红包数据</text>
<text x="574" y="2196">一级大类</text><text x="574" y="2235">二级子类</text><text x="574" y="2254">服务项目</text><text x="574" y="2273">项目设置</text><text x="574" y="2293">项目金额</text>
<text x="574" y="2312">导航菜单</text><text x="574" y="2332">底部菜单</text><text x="574" y="2351">个人中心</text><text x="574" y="2370">会员菜单</text>
<text x="574" y="2389">师傅红包</text><text x="574" y="2408">推广红包</text><text x="574" y="2427">关注红包</text>
<text x="574" y="2605">短信签证</text><text x="574" y="2624">师傅通知</text><text x="574" y="2644">接单通知</text><text x="574" y="2672">状态通知</text>
</g>
<g>
<text class="e" x="545" y="1003">时间范围</text><text class="e" x="545" y="1022">服务状态</text><text class="e" x="545" y="1041">支付状态</text><text class="e" x="545" y="1060">姓名电话</text>
<text class="e" x="545" y="1081">支持后台抢单和派单</text><text class="e" x="545" y="1101">后台派单支持短信通知用户和模板消息通知员工</text>
<text class="e" x="545" y="1120">支持人工录入订单派单</text><text class="e" x="545" y="1139">支持员工录单后让用户扫码绑定</text><text class="e" x="545" y="1158">支持模板批量导入和手工录入</text>
<text class="e" x="545" y="1177">自动匹配城市关键字</text><text class="e" x="545" y="1196">草稿订单不进入主系统</text>
<text class="e" x="545" y="1216">1、用户自行取消</text><text class="e" x="545" y="1235">2、师傅撤销/取消申请取消</text><text class="e" x="545" y="1255">3、后台管理员取消</text><text class="e" x="545" y="1274">4、后台特取消支持后台审核</text>
<text class="e" x="545" y="1294">可分配给其它师傅处理 — 用户申请的售后服务</text>
<text class="e" x="545" y="1313">支持城市的访问量统计</text>
<text class="e" x="545" y="1351">默认平台的佣金抽成费率比例</text><text class="e" x="545" y="1371">支持按照2级分类设置不同的抽成费率</text>
<text class="e" x="545" y="1409">每个城市支持设置全屏广告图片</text>
<text class="e" x="545" y="1428">支持筛选打印付款订单 — 支持下单自动打印小票</text><text class="e" x="545" y="1447">对接飞鹅打印机</text>
<text class="e" x="545" y="1466">每个城市单位支持设置一个后台管理账户，管理当前城市基本数据信息</text>
<text class="e" x="545" y="1485">城市设置城管理员账号绑定，可设置一个操作员账号作为加盟账号</text>
<text class="e" x="545" y="1504">城市分账设置支持可设置订单管理、结算管理、员工管理、投诉管理</text>
<text class="e" x="545" y="1521">支持批量导出导入修改 — 支持设置城市独立的服务项目的金额</text>
<text class="e" x="545" y="1540">价格需要平台管理员审核 — 支持按照城市的价格审核机制</text>
<text class="e" x="545" y="1581">基本信息介绍照片证件</text><text class="e" x="545" y="1600">支持分组设置平台费率</text><text class="e" x="545" y="1619">设置销售员实现销售业绩</text><text class="e" x="545" y="1638">允许员工处理哪些分类的订单</text><text class="e" x="545" y="1657">支持推送审核结果信息</text><text class="e" x="545" y="1676">设置管理人员处理超时订单</text>
<text class="e" x="545" y="1699">不同的城市支持不同的费率</text><text class="e" x="545" y="1718">不同的分类支持不同的费率</text><text class="e" x="545" y="1737">不同的服务员工分类支持不同的费率</text>
<text class="e" x="545" y="1758">支持设置税金扣除</text><text class="e" x="545" y="1778">支持设置保险费用扣除</text><text class="e" x="545" y="1796">支持设置自定义扣除项</text>
<text class="e" x="545" y="1815">1、支持材料费用免佣金</text><text class="e" x="420" y="1815">材料费用不参与平台服务费</text>
<text class="e" x="545" y="1834">2、支持材料费用单独线下结算</text><text class="e" x="400" y="1834">即不进入师傅提现账户，平台单独结算</text>
<text class="e" x="545" y="1853">支持要求员工上传票据照片验证</text><text class="e" x="545" y="1872">支持名称自定义</text>
<text class="e" x="545" y="1892">后台、师傅端都可以申请结算</text><text class="e" x="545" y="1911">自动记录结算的各项金额和之间数值信息</text><text class="e" x="545" y="1930">支持设置超过N日订单自动结算</text>
<text class="e" x="545" y="1949">1、审核结算记录</text><text class="e" x="545" y="1968">2、审核提现记录</text>
<text class="e" x="545" y="1986">支持各项数据导出Excel</text><text class="e" x="545" y="2005">支持自动结算、自动审核</text>
<text class="e" x="545" y="2177">标准模式</text><text class="e" x="470" y="2177">8种模型</text><text class="e" x="395" y="2177">8种页面</text>
<text class="e" x="545" y="2196">简易模式</text><text class="e" x="470" y="2196">通用模型</text><text class="e" x="395" y="2196">1种页面</text>
<text class="e" x="545" y="2215">安装模式</text><text class="e" x="470" y="2215">定制模型</text><text class="e" x="395" y="2215">冷门行业</text>
<text class="e" x="545" y="2293">支持单独设置某个城市独立的项目金额</text>
<text class="e" x="545" y="2389">师傅推荐其他师傅入驻获取红包</text>
<text class="e" x="545" y="2487">扫码维修一键下单</text><text class="e" x="545" y="2507">设置活动</text><text class="e" x="545" y="2527">师傅公告</text><text class="e" x="545" y="2546">用户投诉</text><text class="e" x="545" y="2566">用户反馈</text>
<text class="e" x="545" y="2644">通知用户已经安排人员接单</text><text class="e" x="545" y="2663">订单状态变化通知用户</text><text class="e" x="545" y="2682">接单后通知用户</text>
<text class="e" x="545" y="2858">支持设置在线支付押金申请</text><text class="e" x="545" y="2896">支持现金红包奖励</text>
<text class="e" x="545" y="2916">2级师傅延迟接收订单信息</text><text class="e" x="545" y="2935">2级可设置接单数量限制</text><text class="e" x="545" y="2955">超过设置的时间后订单提醒管理员</text>
<text class="e" x="545" y="3012">自定义设置预约起止时间</text><text class="e" x="545" y="3031">自定义设置可预约时间段</text><text class="e" x="545" y="3050">自定义设置可预约的天数</text>
<text class="e" x="545" y="3069">短信签证</text><text class="e" x="545" y="3089">通知师傅</text>
</g>
<text class="a" x="392" y="1014">多条件筛选</text>
<text class="a" x="303" y="1246">支持自定义原因</text>
<text class="a" x="277" y="1620">支持设置员工分组</text><text x="129" y="1620">支持设置分类服务抽成费用</text>
<text class="a" x="164" y="1719">结算费率=城市费率+员工分组费率</text>
<text class="a" x="390" y="2419">需要分销推广通过关注海报</text>
<text class="a" x="519" y="2459">可设置集团客户</text>
<text class="a" x="495" y="2761">支持按条件导出Excel</text>
<text class="a" x="529" y="3137">提供模板文字</text>
<path class="br" d="M480 995 q-8 0 -8 10 v0 q0 5 -8 5 q8 0 8 5 v20 q0 10 8 10" transform="translate(0,-10)"/>
<path class="br" d="M404 1205 q-8 0 -8 14 v10 q0 13 -8 13 q8 0 8 13 v10 q0 14 8 14"/>
<path class="br" d="M400 1550 q-8 0 -8 20 v30 q0 16 -8 16 q8 0 8 16 v30 q0 20 8 20"/>
<path class="br" d="M360 1690 q-8 0 -8 10 v4 q0 11 -8 11 q8 0 8 11 v4 q0 10 8 10"/>
<path class="br" d="M555 2392 q-8 0 -8 8 v2 q0 9 -8 9 q8 0 8 9 v2 q0 8 8 8"/>
<path class="br" d="M633 2437 q-8 0 -8 6 v3 q0 6 -8 6 q8 0 8 6 v3 q0 6 8 6"/>
<path class="br" d="M633 2694 q-8 0 -8 20 v22 q0 18 -8 18 q8 0 8 18 v22 q0 20 8 20"/>
<path class="br" d="M633 3097 q-8 0 -8 10 v6 q0 8 -8 8 q8 0 8 8 v6 q0 10 8 10"/>

<!-- ===== 服务模型 (red, bottom-left) ===== -->
<g stroke="#e8202a">
<path class="ln" d="M824 3745 V4440"/>
<path class="ln" d="M751 3323 V4171"/>
<path class="ln" d="M751 4259 V4327"/>
<path class="ln" d="M674 3254 V3393 M674 3449 V3528 M674 3566 V3644 M674 3683 V3761 M674 3800 V3878 M674 3917 V3995 M674 4034 V4112 M674 4151 V4229 M674 4232 V4289"/>
<path class="ln" d="M918 4085 C880 4088 850 4090 824 4090"/>
</g>
<text x="850" y="4097" class="L">服务模型</text>
<g>
<text x="771" y="3748">标准模式</text><text x="771" y="4304">通用模式</text><text x="771" y="4369">安装模式</text><text x="771" y="4406">页面结构</text><text x="771" y="4446">使用教程</text>
<text x="696" y="3326">清洗模型</text><text x="696" y="3472">维修模型</text><text x="696" y="3589">安装模型</text><text x="696" y="3706">保养模型</text><text x="696" y="3823">开锁模型</text><text x="696" y="3940">门窗模型</text><text x="696" y="4057">水电模型</text><text x="696" y="4174">简易模型</text><text x="696" y="4262">三级特点</text><text x="696" y="4320">购物车</text>
<text x="621" y="3257">主要特点</text><text x="621" y="3336">版本区分</text><text x="621" y="3356">二级分类</text><text x="621" y="3376">项目数量</text><text x="621" y="3396">常用举例</text>
</g>
<g>
<text class="e" x="581" y="3214">可以一次选多个项目</text><text class="e" x="475" y="3214">类似外卖选择商品</text>
<text class="e" x="581" y="3234">每个项目可以选择多个数量</text><text class="e" x="465" y="3234">加减号增减数量</text>
<text class="e" x="581" y="3263">允许设置多规格项目</text><text class="e" x="465" y="3254">同一个项目可以设置多个规格</text><text class="e" x="465" y="3273">每个规格支持各自的金额</text>
<text class="e" x="581" y="3303">允许设置套餐项目</text><text class="e" x="470" y="3293">套餐项目包含多个普通项目</text><text class="e" x="470" y="3313">可以限制最大数量</text>
<text class="e" x="581" y="3336">有普通和详细</text><text class="e" x="490" y="3336">详细本支持多规格和套餐项目</text>
<text class="e" x="581" y="3356">固定两个子分类</text><text class="e" x="581" y="3376">不限制项目</text><text class="e" x="581" y="3396">油烟机、冰箱、洗衣机、电热器等清洗服务</text>
</g>
<!-- repeated model blocks -->
<g id="blk">
<text class="e" x="581" y="3415">适合维修某些设备的服务</text>
<text class="e" x="581" y="3434">可以设置不同的价格数据</text><text x="621" y="3434">主要特点</text>
<text class="e" x="581" y="3453">可以设置多个维度展示价格</text>
<text class="e" x="581" y="3472">不限制数量，越多越好</text><text x="621" y="3472">二级分类</text>
<text class="e" x="581" y="3492">不限制项目</text><text x="621" y="3492">项目数量</text>
<text class="e" x="581" y="3511">油烟机、冰箱、洗衣机、电热器等故障维修</text><text x="621" y="3511">常用举例</text>
</g>
<g>
<text class="e" x="581" y="3533">适合安装某些设备的服务</text><text class="e" x="581" y="3552">可以设置不同的价格数据</text><text x="621" y="3552">主要特点</text><text class="e" x="581" y="3571">可以设置展示之前简单的价格信息</text><text class="e" x="581" y="3590">不限制数量，越多越好</text><text x="621" y="3590">二级分类</text><text class="e" x="581" y="3609">不限制项目</text><text x="621" y="3609">项目数量</text><text class="e" x="581" y="3628">空调、电视、洗衣机的安装</text><text x="621" y="3628">常用举例</text>
<text class="e" x="581" y="3649">适合保养维修的服务</text><text class="e" x="581" y="3668">可以设置不同的价格数据</text><text x="621" y="3668">主要特点</text><text class="e" x="581" y="3687">可以设置展示之前简单的价格信息</text><text class="e" x="581" y="3706">不限制数量，越多越好</text><text x="621" y="3706">二级分类</text><text class="e" x="581" y="3725">不限制项目</text><text x="621" y="3725">项目数量</text><text class="e" x="581" y="3745">沙发、座椅、管线保养翻修维修</text><text x="621" y="3745">常用举例</text>
<text class="e" x="581" y="3766">适合开锁换锁类的服务项目</text><text class="e" x="581" y="3785">可以设置不同的价格数据</text><text x="621" y="3785">主要特点</text><text class="e" x="581" y="3804">可以设置展示之前简单的价格信息</text><text class="e" x="581" y="3823">不限制数量，越多越好</text><text x="621" y="3823">二级分类</text><text class="e" x="581" y="3842">不限制项目</text><text x="621" y="3842">项目数量</text><text class="e" x="581" y="3862">房门、汽车、保险柜开锁换锁</text><text x="621" y="3862">常用举例</text>
<text class="e" x="581" y="3884">适合家具门窗相关服务项目</text><text class="e" x="581" y="3903">可以设置不同的价格数据</text><text x="621" y="3903">主要特点</text><text class="e" x="581" y="3922">可以设置展示之前简单的价格信息</text><text class="e" x="581" y="3941">不限制数量，越多越好</text><text x="621" y="3941">二级分类</text><text class="e" x="581" y="3960">不限制项目</text><text x="621" y="3960">项目数量</text><text class="e" x="581" y="3980">门窗、合页、滑轨类、衣柜、组合柜安装拆卸</text><text x="621" y="3980">常用举例</text>
<text class="e" x="581" y="4001">适合水电灯具、五金件相关服务项目</text><text class="e" x="581" y="4020">可以设置不同的价格数据</text><text x="621" y="4020">主要特点</text><text class="e" x="581" y="4039">可以设置展示之前简单的价格信息</text><text class="e" x="581" y="4058">不限制数量，越多越好</text><text x="621" y="4058">二级分类</text><text class="e" x="581" y="4077">不限制项目</text><text x="621" y="4077">项目数量</text><text class="e" x="581" y="4097">水龙头、马桶、浴缸、脸盆、灯具安装拆卸</text><text x="621" y="4097">常用举例</text>
<text class="e" x="581" y="4117">适合各种管道疏通的相关服务项目</text><text class="e" x="581" y="4136">可以设置不同的价格数据</text><text x="621" y="4136">主要特点</text><text class="e" x="581" y="4155">可以设置展示之前简单的价格信息</text><text class="e" x="581" y="4174">固定一个子分类</text><text x="621" y="4174">二级分类</text><text class="e" x="581" y="4193">不限制项目</text><text x="621" y="4193">项目数量</text><text class="e" x="581" y="4213">管道疏通、马桶疏通、地漏、洗手盆疏通</text><text x="621" y="4213">常用举例</text>
<text class="e" x="655" y="4235">不限制分类不限制项目</text><text class="e" x="655" y="4254">先进入展示子分类页面</text><text class="e" x="655" y="4273">再进入项目展示页面</text><text class="e" x="655" y="4292">流程相对简单操作相对直观</text>
<text class="e" x="665" y="4312">支持购物车为合并下单，同一大类内合并为同一订单，类似清洗模型</text><text class="e" x="665" y="4330">多个大类的项目会自动拆分订单，每个大类一个订单</text>
<text class="e" x="730" y="4349">标准模式下各个模型都可以视为使用通用模式</text>
<text class="e" x="730" y="4369">特殊定制</text><text class="e" x="655" y="4369">极少项目</text>
<text class="e" x="730" y="4389">标准模式下8个模型对应八种页面展示效果</text><text class="e" x="730" y="4407">简易模式对应一种页面效果</text><text class="e" x="730" y="4427">安装模式对应一种页面效果</text>
<text class="e" x="730" y="4446">提供多个模型模式的配置教程，简单快捷</text>
</g>
<text class="a" x="234" y="3305">类似外卖套餐</text>
<path class="br" d="M345 3288 q-8 0 -8 6 v0 q0 6 -8 6 q8 0 8 6 v0 q0 6 8 6"/>
<text class="a" x="24" y="3792">根据实际场景选择合适模型即可</text>
<path class="br" d="M222 3201 q-9 0 -9 30 v530 q0 26 -8 26 q8 0 8 26 v530 q0 30 9 30"/>
</svg>
</body></html>
